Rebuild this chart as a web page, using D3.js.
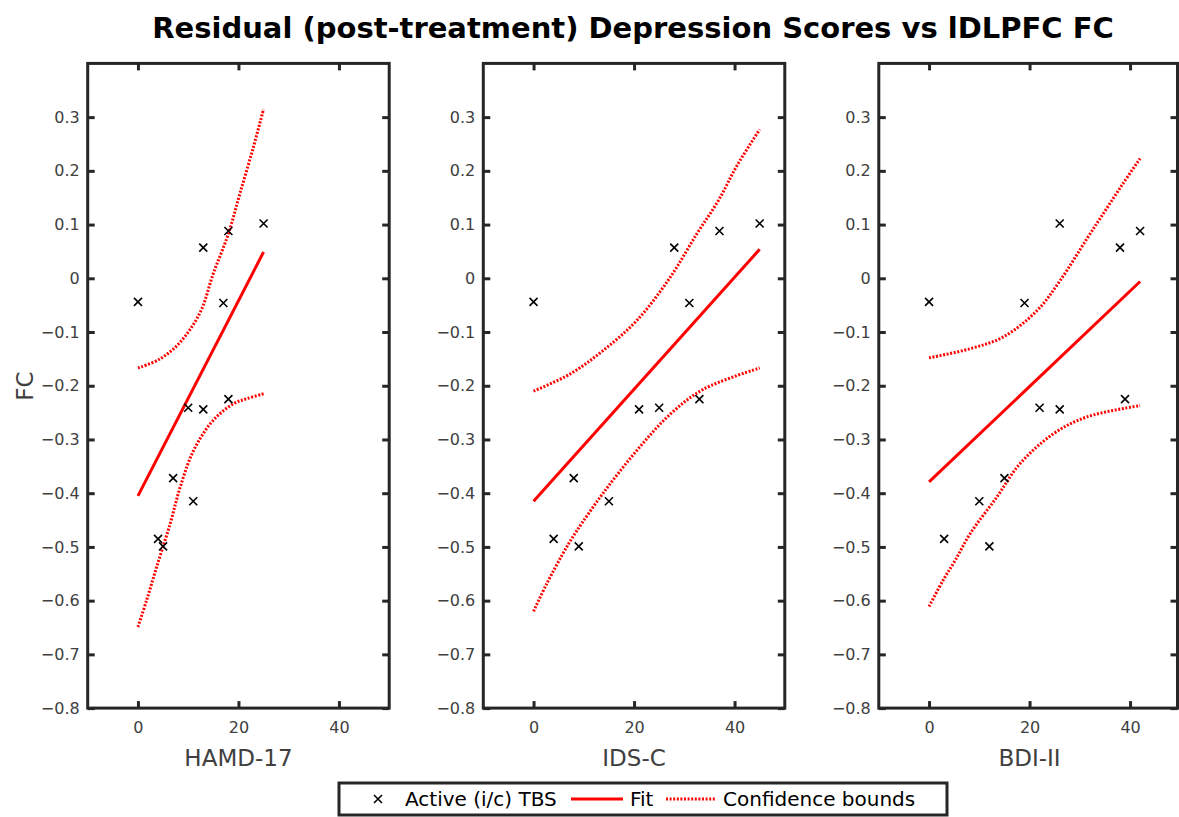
<!DOCTYPE html>
<html>
<head>
<meta charset="utf-8">
<script src="https://cdn.jsdelivr.net/npm/d3@7"></script>
<style>
body { margin: 0; background: #fff; }
</style>
</head>
<body>
<div id="container"></div>
<script>
// FC value of each subject (same order in every score array)
const fc = [-0.044, 0.057, 0.088, 0.102, -0.046, -0.241, -0.244, -0.225, -0.372, -0.415, -0.485, -0.499];
const hamd = [0, 13, 18, 25, 17, 10, 13, 18, 7, 11, 4, 5];
const ids = [0, 28, 37, 45, 31, 25, 21, 33, 8, 15, 4, 9];
const bdi = [0, 38, 42, 26, 19, 22, 26, 39, 15, 10, 3, 12];

// fit lines and confidence bounds as [score, FC]
const hamdFit = [[0, -0.405], [25, 0.049]];
const hamdUpper = [[0, -0.167], [4.4, -0.150], [8.4, -0.119], [12.4, -0.063], [15, 0.009], [18, 0.083], [20.3, 0.158], [23, 0.245], [25, 0.315]];
const hamdLower = [[0, -0.649], [1.7, -0.600], [3.7, -0.538], [6.4, -0.457], [8.4, -0.389], [11.1, -0.320], [15, -0.264], [19.1, -0.233], [21.7, -0.224], [25, -0.215]];

const idsFit = [[0, -0.415], [45, 0.054]];
const idsUpper = [[0, -0.210], [7.3, -0.178], [13.9, -0.134], [20.6, -0.078], [27.2, 0.002], [32.5, 0.083], [36.8, 0.145], [40.5, 0.210], [45, 0.277]];
const idsLower = [[0, -0.620], [2.6, -0.569], [6.6, -0.500], [8.6, -0.470], [14, -0.398], [20.6, -0.320], [27.3, -0.252], [33.9, -0.206], [45, -0.167]];

const bdiFit = [[0, -0.379], [42, -0.006]];
const bdiUpper = [[0, -0.148], [8.2, -0.131], [14.8, -0.109], [21.5, -0.060], [26.1, -0.004], [31.5, 0.075], [35, 0.125], [38.5, 0.175], [42, 0.223]];
const bdiLower = [[0, -0.611], [2.8, -0.562], [5.2, -0.525], [8.2, -0.475], [13.5, -0.407], [18.1, -0.345], [24.8, -0.289], [31.4, -0.258], [42, -0.237]];

const xLabels = ['HAMD-17', 'IDS-C', 'BDI-II'];
const xTicks = [0, 20, 40];
const yTicks = [-0.8, -0.7, -0.6, -0.5, -0.4, -0.3, -0.2, -0.1, 0, 0.1, 0.2, 0.3];
const legendLabels = ['Active (i/c) TBS', 'Fit', 'Confidence bounds'];

const panels = [
	{ label: xLabels[0], score: hamd, fit: hamdFit, upper: hamdUpper, lower: hamdLower },
	{ label: xLabels[1], score: ids, fit: idsFit, upper: idsUpper, lower: idsLower },
	{ label: xLabels[2], score: bdi, fit: bdiFit, upper: bdiUpper, lower: bdiLower }
];

const W = 1179, H = 817;
const font = '"DejaVu Sans", sans-serif';
const axisColor = '#262626';
const labelColor = '#404040';
const red = '#ff0000';

const svg = d3.select('#container').append('svg')
	.attr('width', W)
	.attr('height', H)
	.style('font-family', font);

svg.append('text')
	.text('Residual (post-treatment) Depression Scores vs lDLPFC FC')
	.attr('x', 633)
	.attr('y', 38)
	.attr('text-anchor', 'middle')
	.attr('font-weight', 'bold')
	.attr('font-size', 29)
	.attr('fill', '#000');

const panelLeft = [87.7, 483.3, 878.8];
const panelW = 301.5;
const plotTop = 63.4, plotBottom = 708.1;

const y = d3.scaleLinear().domain([-0.8, 0.4]).range([plotBottom, plotTop]);
const fmt = d => d === 0 ? '0' : d3.format('.1f')(d);

const line = (x) => d3.line()
	.x(d => x(d[0]))
	.y(d => y(d[1]));

panels.forEach((p, i) => {
	const left = panelLeft[i];
	const boxW = Math.min(panelW, 1177.5 - left);
	const x = d3.scaleLinear().domain([-10, 50]).range([0, panelW]);
	const g = svg.append('g').attr('transform', `translate(${left},0)`);

	// inward ticks on all four sides
	g.append('g')
		.call(d3.axisLeft(y).tickValues(yTicks).tickFormat(fmt).tickSize(-7).tickSizeOuter(0).tickPadding(8));
	g.append('g').attr('transform', `translate(${boxW},0)`)
		.call(d3.axisRight(y).tickValues(yTicks).tickFormat('').tickSize(-7).tickSizeOuter(0));
	g.append('g').attr('transform', `translate(0,${plotBottom})`)
		.call(d3.axisBottom(x).tickValues(xTicks).tickFormat(d3.format('d')).tickSize(-7).tickSizeOuter(0).tickPadding(14));
	g.append('g').attr('transform', `translate(0,${plotTop})`)
		.call(d3.axisTop(x).tickValues(xTicks).tickFormat('').tickSize(-7).tickSizeOuter(0));

	g.selectAll('.domain').remove();
	g.selectAll('.tick line').attr('stroke', axisColor).attr('stroke-width', 3);
	g.selectAll('.tick text').attr('fill', labelColor).attr('font-size', 16).attr('font-family', font);

	g.append('rect')
		.attr('x', 0).attr('y', plotTop)
		.attr('width', boxW).attr('height', plotBottom - plotTop)
		.attr('fill', 'none')
		.attr('stroke', axisColor)
		.attr('stroke-width', 3);

	const curve = line(x).curve(d3.curveCatmullRom.alpha(0.5));

	[p.upper, p.lower].forEach(b => {
		g.append('path')
			.datum(b)
			.attr('d', curve)
			.attr('fill', 'none')
			.attr('stroke', red)
			.attr('stroke-width', 3)
			.attr('stroke-dasharray', '2,1.6');
	});

	g.append('path')
		.datum(p.fit)
		.attr('d', line(x))
		.attr('fill', 'none')
		.attr('stroke', red)
		.attr('stroke-width', 3);

	const pts = p.score.map((s, k) => [s, fc[k]]);
	const r = 4;
	g.selectAll('.pt')
		.data(pts).enter()
		.append('path')
		.attr('class', 'pt')
		.attr('d', d => {
			const cx = x(d[0]), cy = y(d[1]);
			return `M${cx - r},${cy - r}L${cx + r},${cy + r}M${cx - r},${cy + r}L${cx + r},${cy - r}`;
		})
		.attr('stroke', '#000')
		.attr('stroke-width', 1.6)
		.attr('fill', 'none');

	g.append('text')
		.text(p.label)
		.attr('x', panelW / 2)
		.attr('y', 766)
		.attr('text-anchor', 'middle')
		.attr('font-size', 23)
		.attr('fill', labelColor);
});

svg.append('text')
	.text('FC')
	.attr('transform', 'translate(33,386) rotate(-90)')
	.attr('text-anchor', 'middle')
	.attr('font-size', 23)
	.attr('fill', labelColor);

// legend
const lg = svg.append('g');
lg.append('rect')
	.attr('x', 339).attr('y', 783)
	.attr('width', 608).attr('height', 32)
	.attr('fill', '#fff')
	.attr('stroke', axisColor)
	.attr('stroke-width', 3);

const ly = 799;
lg.append('path')
	.attr('d', `M${378 - 4},${ly - 4}L${378 + 4},${ly + 4}M${378 - 4},${ly + 4}L${378 + 4},${ly - 4}`)
	.attr('stroke', '#000')
	.attr('stroke-width', 1.6);
lg.append('line')
	.attr('x1', 571).attr('x2', 623).attr('y1', ly).attr('y2', ly)
	.attr('stroke', red).attr('stroke-width', 3);
lg.append('line')
	.attr('x1', 666).attr('x2', 715).attr('y1', ly).attr('y2', ly)
	.attr('stroke', red).attr('stroke-width', 3)
	.attr('stroke-dasharray', '2,1.6');

const legendX = [405, 630, 723];
lg.selectAll('.lt')
	.data(legendLabels).enter()
	.append('text')
	.attr('class', 'lt')
	.attr('x', (d, i) => legendX[i])
	.attr('y', ly + 7)
	.attr('font-size', 20)
	.attr('fill', '#000')
	.text(d => d);
</script>
</body>
</html>
